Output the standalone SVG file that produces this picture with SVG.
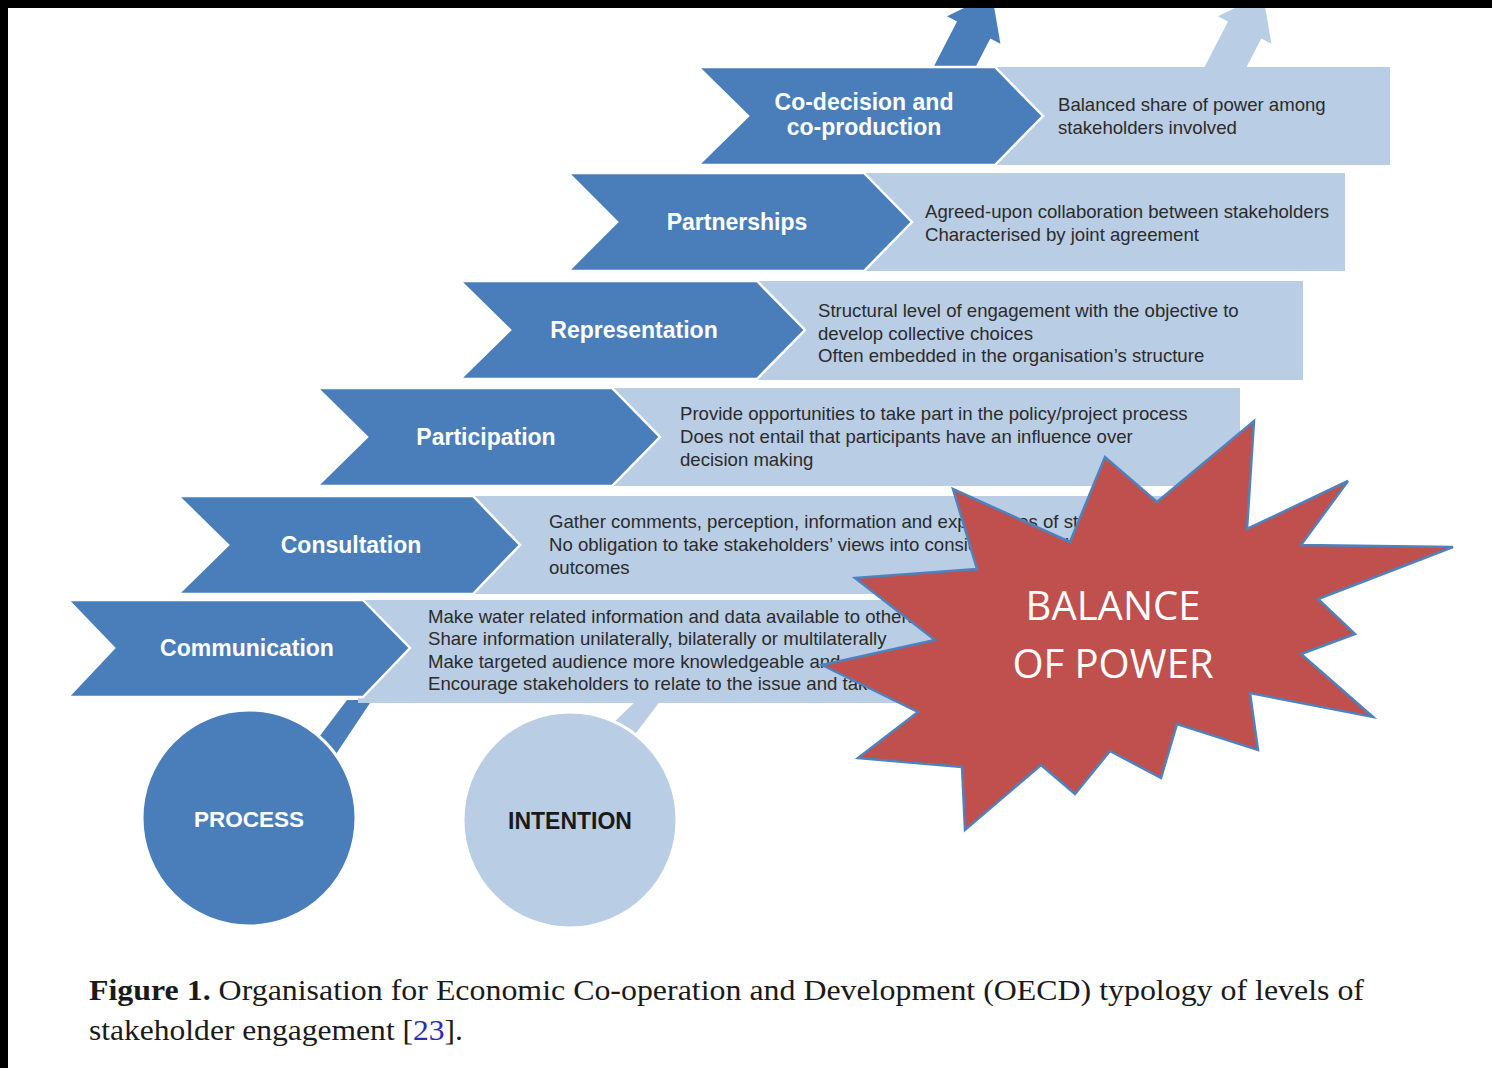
<svg xmlns="http://www.w3.org/2000/svg" width="1492" height="1068" viewBox="0 0 1492 1068">
<defs>
<style>
.dark{fill:#4a7ebb;stroke:#ffffff;stroke-width:2.5}
.light{fill:#b9cde5}
.lbl{font-family:"Liberation Sans",Arial,sans-serif;font-weight:bold;font-size:23px;fill:#ffffff;text-anchor:middle}
.desc{font-family:"Liberation Sans",Arial,sans-serif;font-size:18.6px;fill:#2b2b2b}
.cap{font-family:"Liberation Serif","Times New Roman",serif;font-size:29px;fill:#1a1a1a}
.star{fill:#c0504d;stroke:#4f81bd;stroke-width:2.5;stroke-linejoin:miter}
.startxt{font-family:"Open Sans","Noto Sans",sans-serif;font-size:40px;fill:#ffffff;text-anchor:middle}
</style>
</defs>
<rect x="0" y="0" width="1492" height="1068" fill="#ffffff"/>

<g id="connectors">
<polygon fill="#4a7ebb" points="932,70 957,21.4 947,16.2 992,-5.6 1000.4,43.8 990.3,38.6 974,70"/>
<polygon fill="#b9cde5" points="1203,70 1228,21.4 1218,16.2 1263,-5.6 1271.4,43.8 1261.3,38.6 1245,70"/>
<polygon fill="#4a7ebb" points="347,700 372,700 336,754 316,741"/>
<polygon fill="#b9cde5" points="637,700 661,700 633,737 610,726"/>
</g>

<g id="row-codecision">
<rect class="light" x="990" y="67" width="400" height="98"/>
<polygon class="dark" points="698,67 995,67 1043,116 995,165 698,165 748,116"/>
<text class="lbl" x="864" y="110">Co-decision and</text>
<text class="lbl" x="864" y="135">co-production</text>
<text class="desc" x="1058" y="111">Balanced share of power among</text>
<text class="desc" x="1058" y="134">stakeholders involved</text>
</g>

<g id="row-partnerships">
<rect class="light" x="860" y="173" width="485" height="98"/>
<polygon class="dark" points="568,173 864,173 912,222 864,271 568,271 617,222"/>
<text class="lbl" x="737" y="230">Partnerships</text>
<text class="desc" x="925" y="218">Agreed-upon collaboration between stakeholders</text>
<text class="desc" x="925" y="241">Characterised by joint agreement</text>
</g>

<g id="row-representation">
<rect class="light" x="752" y="281" width="551" height="99"/>
<polygon class="dark" points="460,281 757,281 805,330 757,379 460,379 510,330"/>
<text class="lbl" x="634" y="338">Representation</text>
<text class="desc" x="818" y="317">Structural level of engagement with the objective to</text>
<text class="desc" x="818" y="340">develop collective choices</text>
<text class="desc" x="818" y="362">Often embedded in the organisation’s structure</text>
</g>

<g id="row-participation">
<rect class="light" x="607" y="388" width="633" height="98"/>
<polygon class="dark" points="317,388 612,388 660,437 612,486 317,486 367,437"/>
<text class="lbl" x="486" y="445">Participation</text>
<text class="desc" x="680" y="420">Provide opportunities to take part in the policy/project process</text>
<text class="desc" x="680" y="443">Does not entail that participants have an influence over</text>
<text class="desc" x="680" y="466">decision making</text>
</g>

<g id="row-consultation">
<rect class="light" x="468" y="496" width="727" height="98"/>
<polygon class="dark" points="178,496 473,496 520,545 473,594 178,594 228,545"/>
<text class="lbl" x="351" y="553">Consultation</text>
<text class="desc" x="549" y="528">Gather comments, perception, information and experiences of stakeholders</text>
<text class="desc" x="549" y="551">No obligation to take stakeholders’ views into consideration in the final</text>
<text class="desc" x="549" y="574">outcomes</text>
</g>

<g id="row-communication">
<rect class="light" x="358" y="600" width="792" height="103"/>
<polygon class="dark" points="68,600 363,600 410,648 363,697 68,697 114,648"/>
<text class="lbl" x="247" y="656">Communication</text>
<text class="desc" x="428" y="623">Make water related information and data available to others</text>
<text class="desc" x="428" y="645">Share information unilaterally, bilaterally or multilaterally</text>
<text class="desc" x="428" y="668">Make targeted audience more knowledgeable and sensitive</text>
<text class="desc" x="428" y="690">Encourage stakeholders to relate to the issue and take action</text>
</g>

<g id="process">
<ellipse cx="249" cy="818" rx="107" ry="108" fill="#4a7ebb" stroke="#ffffff" stroke-width="3"/>
<text class="lbl" x="249" y="827" style="font-size:22.5px">PROCESS</text>
</g>

<g id="intention">
<ellipse cx="570" cy="820" rx="107" ry="108" fill="#b9cde5" stroke="#ffffff" stroke-width="3"/>
<text class="lbl" x="570" y="829" style="font-size:23px;fill:#1a1a1a">INTENTION</text>
</g>

<g id="balance-of-power">
<polygon class="star" points="1254,421 1247,529 1348,481 1301,545 1453,547 1318,599 1355,634 1301,654 1373,717 1250,693 1258,750 1177,724 1161,778 1110,751 1075,794 1041,765 965,830 962,767 858,758 918,712 822,665 935,640 855,578 977,569 953,489 1070,542 1105,457 1157,502"/>
<text class="startxt" x="1113" y="620">BALANCE</text>
<text class="startxt" x="1113" y="678">OF POWER</text>
</g>

<g id="caption">
<text class="cap" x="89" y="1000" textLength="1275" lengthAdjust="spacingAndGlyphs"><tspan font-weight="bold">Figure 1.</tspan> Organisation for Economic Co-operation and Development (OECD) typology of levels of</text>
<text class="cap" x="89" y="1040" textLength="374" lengthAdjust="spacingAndGlyphs">stakeholder engagement [<tspan fill="#2b2bb8">23</tspan>].</text>
</g>

<rect x="0" y="0" width="1492" height="8" fill="#000000"/>
<rect x="0" y="0" width="8" height="1068" fill="#000000"/>
</svg>
